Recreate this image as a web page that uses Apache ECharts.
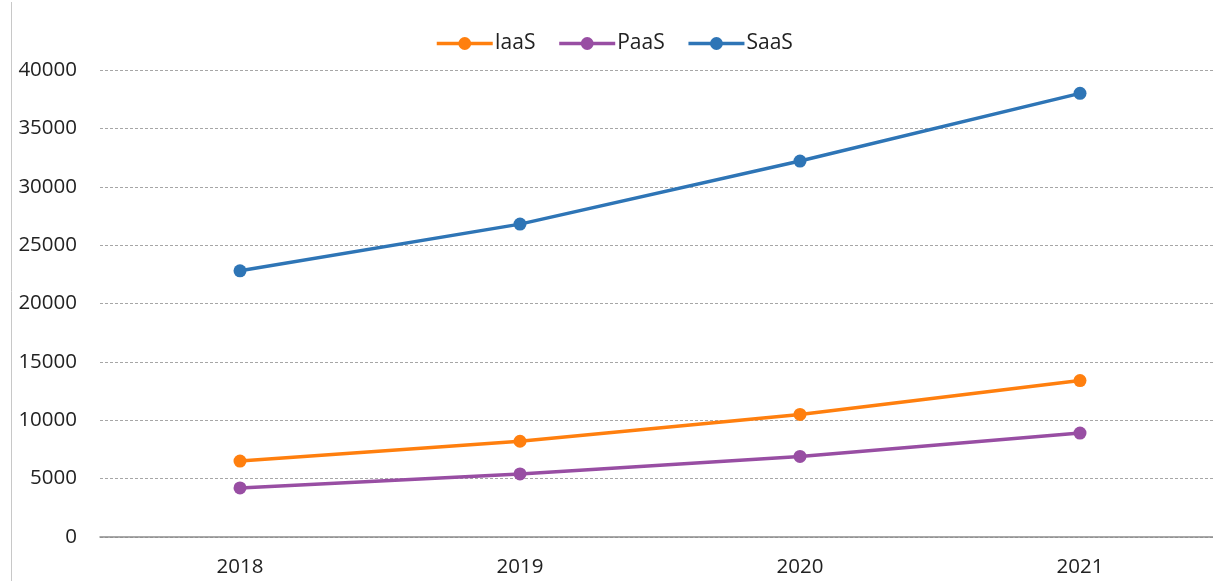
<!DOCTYPE html>
<html>
<head>
<meta charset="utf-8">
<style>
  html, body { margin: 0; padding: 0; background: #fff; }
  #chart { width: 1213px; height: 581px; }
</style>
<script src="https://cdn.jsdelivr.net/npm/echarts@6/dist/echarts.min.js"></script>
</head>
<body>
<div id="chart"></div>
<script>
// Cloud market revenue by service model
const years = ['2018', '2019', '2020', '2021'];
const iaas = [6500, 8200, 10500, 13400];
const paas = [4200, 5400, 6900, 8900];
const saas = [22800, 26800, 32200, 38000];
const seriesNames = ['IaaS', 'PaaS', 'SaaS'];
const seriesColors = ['#FF7F0E', '#984EA3', '#2E75B6'];

const FONT = '"Open Sans", "Liberation Sans", sans-serif';

const chart = echarts.init(document.getElementById('chart'));

function lineSeries(name, data, color) {
  return {
    name: name,
    type: 'line',
    data: data,
    symbol: 'circle',
    symbolSize: 13,
    lineStyle: { width: 3.5, color: color },
    itemStyle: { color: color },
    emphasis: { disabled: true },
    animation: false
  };
}

chart.setOption({
  animation: false,
  textStyle: { fontFamily: FONT },
  legend: {
    top: 28,
    left: 430,
    itemWidth: 56,
    itemHeight: 16,
    itemGap: 22,
    lineStyle: { width: 3.5 },
    itemStyle: { borderWidth: 0 },
    textStyle: { fontSize: 21, color: '#222', fontFamily: FONT, padding: [0, 0, 0, -3] },
    data: seriesNames
  },
  grid: { left: 100, top: 70, bottom: 44, right: -7, outerBoundsMode: 'none' },
  xAxis: {
    type: 'category',
    data: years,
    boundaryGap: true,
    axisLine: { show: true, lineStyle: { color: '#8C8C8C', width: 1.5 } },
    axisTick: { show: false },
    axisLabel: { fontSize: 20.5, color: '#222', margin: 20, fontFamily: FONT }
  },
  yAxis: {
    type: 'value',
    min: 0,
    max: 40000,
    interval: 5000,
    axisLine: { show: false },
    axisTick: { show: false },
    axisLabel: {
      fontSize: 20.5, color: '#222', margin: 23, fontFamily: FONT,
      formatter: function (v) { return String(v); }
    },
    splitLine: { lineStyle: { color: '#A6A6A6', type: [3, 2], width: 1 } }
  },
  graphic: [{
    type: 'line',
    shape: { x1: 11.5, y1: 2, x2: 11.5, y2: 581 },
    style: { stroke: '#C8C8C8', lineWidth: 1 },
    silent: true
  }],
  series: [
    lineSeries(seriesNames[0], iaas, seriesColors[0]),
    lineSeries(seriesNames[1], paas, seriesColors[1]),
    lineSeries(seriesNames[2], saas, seriesColors[2])
  ]
});
</script>
</body>
</html>
